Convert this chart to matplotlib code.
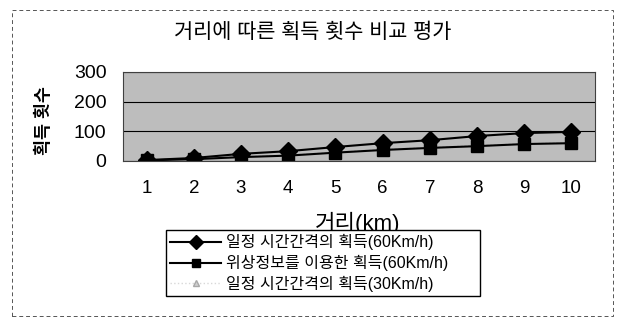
import numpy as np
import matplotlib.pyplot as plt
from matplotlib.patches import Rectangle

plt.rcParams['font.family'] = ['Liberation Sans', 'Noto Sans CJK KR']

# 거리별 획득 횟수
거리 = [1, 2, 3, 4, 5, 6, 7, 8, 9, 10]
일정60 = [3, 10, 24, 33, 47, 60, 70, 84, 94, 98]
위상60 = [2, 6, 13, 18, 28, 37, 44, 50, 57, 60]
일정30 = [3, 7, 14, 19, 29, 38, 45, 52, 58, 61]
범례 = ['일정 시간간격의 획득(60Km/h)', '위상정보를 이용한 획득(60Km/h)', '일정 시간간격의 획득(30Km/h)']

fig = plt.figure(figsize=(6.17, 3.2), dpi=100)
ax = fig.add_axes([0.1994, 0.497, 0.765, 0.278])
ax.set_facecolor('#bdbdbd')

x = np.arange(len(거리))
l3, = ax.plot(x, 일정30, color='#d8d8d8', lw=1, ls=':', marker='^', ms=6, mfc='#d0d0d0', mec='#a8a8a8')
l1, = ax.plot(x, 일정60, color='black', lw=1.5, marker='D', ms=9)
l2, = ax.plot(x, 위상60, color='black', lw=1.5, marker='s', ms=8)

ax.set_xlim(-0.5, len(거리) - 0.5)
ax.set_ylim(0, 300)
ax.set_yticks([0, 100, 200, 300])
ax.yaxis.grid(True, color='black', lw=0.8)
ax.set_axisbelow(True)
ax.set_xticks(x)
ax.set_xticklabels([str(v) for v in 거리])
ax.tick_params(axis='x', length=0, labelsize=13.5, pad=14)
ax.tick_params(axis='y', length=0, labelsize=14, pad=12)
for s in ax.spines.values():
    s.set_color('#404040')
    s.set_linewidth(0.8)

fig.text(0.506, 0.9, '거리에 따른 획득 횟수 비교 평가', ha='center', va='center', fontsize=15)
fig.text(0.07, 0.622, '획득 횟수', rotation=90, ha='center', va='center', fontsize=12.5, fontweight='bold')
fig.text(0.579, 0.302, '거리(km)', ha='center', va='center', fontsize=16)

leg = fig.legend([l1, l2, l3], 범례, loc='upper left', bbox_to_anchor=(0.269, 0.081, 0.509, 0.2),
                 mode='expand', fontsize=11.5, frameon=True, fancybox=False, edgecolor='black',
                 framealpha=1, handlelength=3.2, borderpad=0.25, labelspacing=0.3,
                 handletextpad=0.3, markerscale=0.8, borderaxespad=0)
leg.get_frame().set_linewidth(1)

fig.patches.append(Rectangle((0.019, 0.0125), 0.9745, 0.9565, transform=fig.transFigure,
                             fill=False, ls=(0, (4, 3)), lw=0.7, color='#555555'))

plt.savefig('out.png', dpi=100)
